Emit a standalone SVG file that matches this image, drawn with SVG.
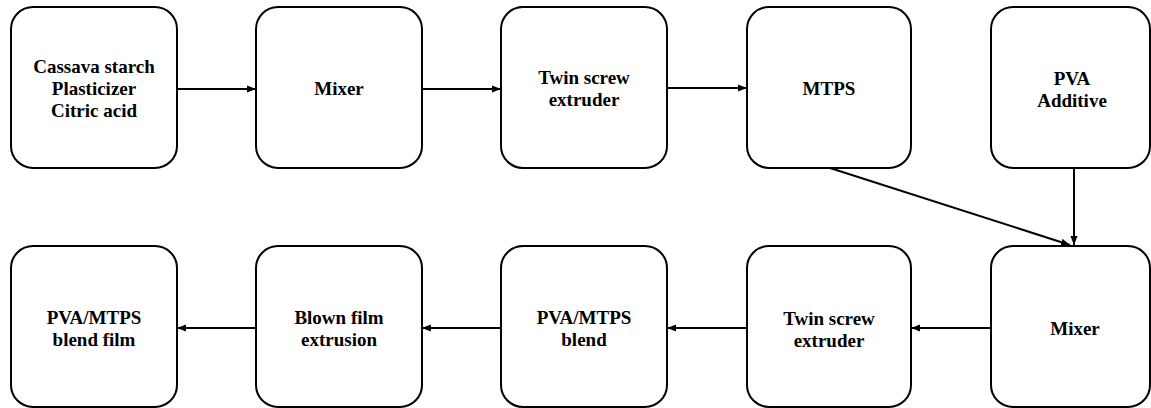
<svg xmlns="http://www.w3.org/2000/svg" width="1151" height="408" viewBox="0 0 1151 408">
<style>
.box{fill:#fff;stroke:#000;stroke-width:2}
.t{font-weight:bold;font-size:19px;fill:#000;text-anchor:middle}
.c{stroke:#000;stroke-width:2;fill:none;marker-end:url(#ah)}
</style>
<defs>
<marker id="ah" viewBox="0 0 10 8" refX="10" refY="4" markerWidth="4.5" markerHeight="3.6" orient="auto" markerUnits="strokeWidth">
<path d="M0,0 L10,4 L0,8 z" fill="#000"/>
</marker>
</defs>
<rect width="1151" height="408" fill="#fff"/>
<g id="connectors">
<line class="c" x1="177" y1="89" x2="256" y2="89"/>
<line class="c" x1="422" y1="89" x2="501" y2="89"/>
<line class="c" x1="667" y1="88" x2="747" y2="88"/>
<line class="c" x1="830" y1="168" x2="1070" y2="245"/>
<line class="c" x1="1074" y1="168" x2="1074" y2="245"/>
<line class="c" x1="991" y1="328" x2="911" y2="328"/>
<line class="c" x1="746" y1="328" x2="667" y2="328"/>
<line class="c" x1="501" y1="328" x2="422" y2="328"/>
<line class="c" x1="256" y1="328" x2="177" y2="328"/>
</g>
<g font-family="Liberation Serif, DejaVu Serif, serif">
<g id="n1"><rect class="box" x="11" y="7" width="166" height="161" rx="22"/>
<text class="t" x="94" y="73">Cassava starch</text><text class="t" x="94" y="95">Plasticizer</text><text class="t" x="94" y="117">Citric acid</text></g>
<g id="n2"><rect class="box" x="256" y="7" width="166" height="161" rx="22"/>
<text class="t" x="339" y="95">Mixer</text></g>
<g id="n3"><rect class="box" x="501" y="7" width="166" height="161" rx="22"/>
<text class="t" x="584" y="84">Twin screw</text><text class="t" x="584" y="106">extruder</text></g>
<g id="n4"><rect class="box" x="747" y="7" width="164" height="161" rx="22"/>
<text class="t" x="829" y="95">MTPS</text></g>
<g id="n5"><rect class="box" x="991" y="7" width="159" height="161" rx="22"/>
<text class="t" x="1072" y="85">PVA</text><text class="t" x="1072" y="107">Additive</text></g>
<g id="n6"><rect class="box" x="991" y="246" width="159" height="161" rx="22"/>
<text class="t" x="1075" y="335">Mixer</text></g>
<g id="n7"><rect class="box" x="747" y="246" width="164" height="161" rx="22"/>
<text class="t" x="829" y="325">Twin screw</text><text class="t" x="829" y="347">extruder</text></g>
<g id="n8"><rect class="box" x="501" y="246" width="166" height="161" rx="22"/>
<text class="t" x="584" y="324">PVA/MTPS</text><text class="t" x="584" y="346">blend</text></g>
<g id="n9"><rect class="box" x="256" y="246" width="166" height="161" rx="22"/>
<text class="t" x="339" y="324">Blown film</text><text class="t" x="339" y="346">extrusion</text></g>
<g id="n10"><rect class="box" x="11" y="246" width="166" height="161" rx="22"/>
<text class="t" x="94" y="324">PVA/MTPS</text><text class="t" x="94" y="346">blend film</text></g>
</g>
</svg>
